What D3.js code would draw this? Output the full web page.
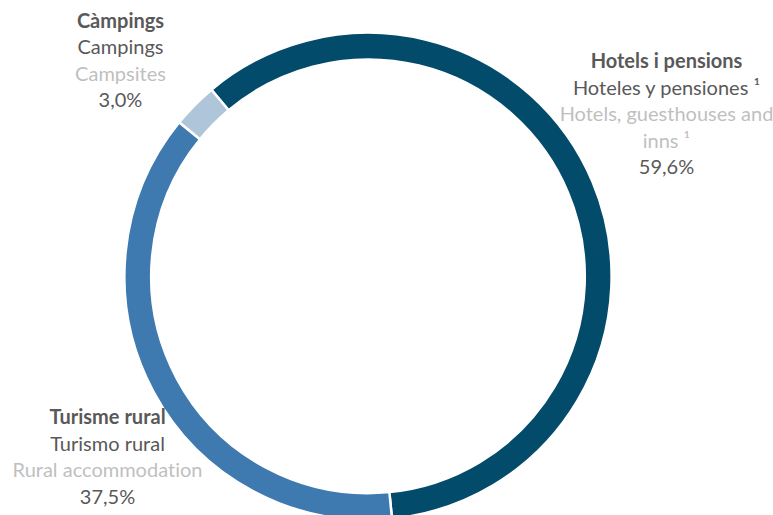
<!DOCTYPE html>
<html><head><meta charset="utf-8">
<script src="https://cdn.jsdelivr.net/npm/d3@7"></script>
<style>body{margin:0;background:#fff}svg{display:block}text{font-variant-ligatures:none;font-feature-settings:"liga" 0}</style>
</head><body>
<svg id="c" width="773" height="515"></svg>
<script>
const categories = ["Hotels i pensions", "Turisme rural", "Càmpings"];
const labelsEs = ["Hoteles y pensiones ¹", "Turismo rural", "Campings"];
const labelsEn = [["Hotels, guesthouses and", "inns ¹"], ["Rural accommodation"], ["Campsites"]];
const values = [59.6, 37.5, 3.0];
const pctLabels = ["59,6%", "37,5%", "3,0%"];
const colors = ["#034B6B", "#3E7AAF", "#AEC5DA"];

const svg = d3.select("#c");
const cx = 368, cy = 276.3, R = 243.6, r = 216.8;
const g = svg.append("g").attr("transform", `translate(${cx},${cy})`);
const pie = d3.pie().sort(null).value(d => d).startAngle(-40 * Math.PI / 180).endAngle(320 * Math.PI / 180);
const arc = d3.arc().innerRadius(r).outerRadius(R);
g.selectAll("path").data(pie(values)).join("path")
  .attr("d", arc).attr("fill", (d, i) => colors[i])
  .attr("stroke", "#fff").attr("stroke-width", 2.5);

const font = "Lato, 'Open Sans', sans-serif";
const fs = 20, lh = 26.5;
const blocks = [
  {x: 666.5, y: 68},
  {x: 107.5, y: 424},
  {x: 120.5, y: 27.5}
];
categories.forEach((c, i) => {
  const lines = [{t: c, w: "bold", col: "#595959"}, {t: labelsEs[i], w: "normal", col: "#595959"}]
    .concat(labelsEn[i].map(t => ({t, w: "normal", col: "#BFBFBF"})))
    .concat([{t: pctLabels[i], w: "normal", col: "#595959"}]);
  const tx = svg.append("text").attr("font-family", font).attr("font-size", fs).attr("text-anchor", "middle");
  lines.forEach((l, k) => {
    tx.append("tspan").attr("x", blocks[i].x).attr("y", blocks[i].y + k * lh)
      .attr("font-weight", l.w).attr("fill", l.col).text(l.t);
  });
});
</script>
</body></html>
